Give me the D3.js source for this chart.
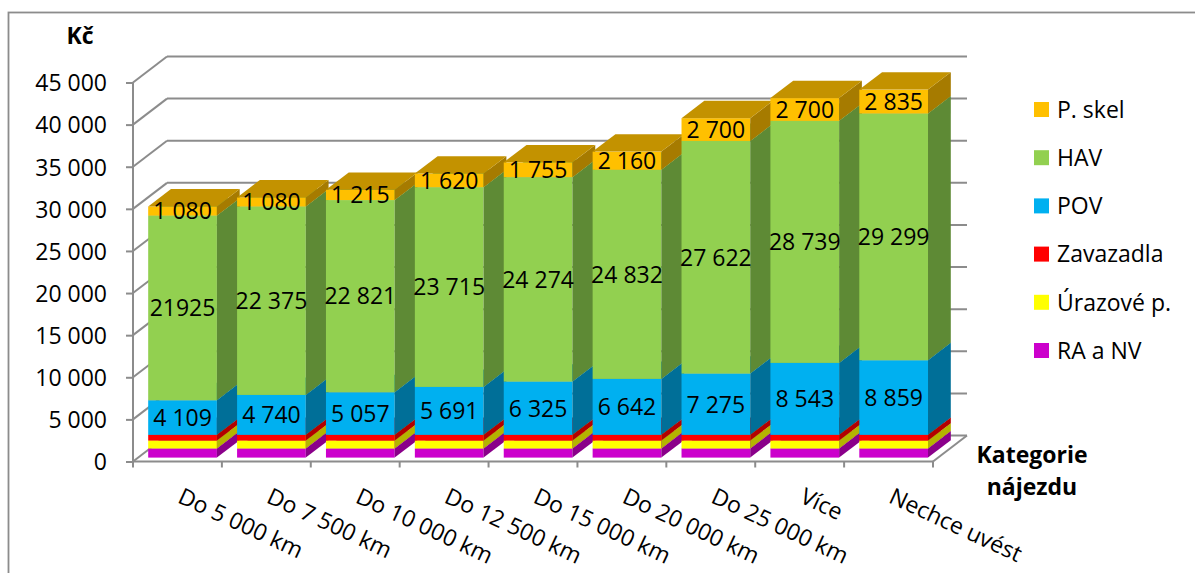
<!DOCTYPE html>
<html>
<head>
<meta charset="utf-8">
<script src="https://cdn.jsdelivr.net/npm/d3@7"></script>
<style>
  html, body { margin: 0; padding: 0; background: #fff; }
  svg text { font-family: "Open Sans", "Liberation Sans", sans-serif; fill: #000; }
</style>
</head>
<body>
<svg id="chart" width="1195" height="573"></svg>
<script>
// Categories of annual mileage
const categories = ["Do 5 000 km", "Do 7 500 km", "Do 10 000 km", "Do 12 500 km",
  "Do 15 000 km", "Do 20 000 km", "Do 25 000 km", "Více", "Nechce uvést"];

// Stacked series, bottom to top (Kč)
const raNv      = [1080, 1080, 1080, 1080, 1080, 1080, 1080, 1080, 1080];
const urazove   = [945, 945, 945, 945, 945, 945, 945, 945, 945];
const zavazadla = [675, 675, 675, 675, 675, 675, 675, 675, 675];
const pov       = [4109, 4740, 5057, 5691, 6325, 6642, 7275, 8543, 8859];
const hav       = [21925, 22375, 22821, 23715, 24274, 24832, 27622, 28739, 29299];
const pSkel     = [1080, 1080, 1215, 1620, 1755, 2160, 2700, 2700, 2835];

// Value axis ticks
const yTicks = [0, 5000, 10000, 15000, 20000, 25000, 30000, 35000, 40000, 45000];

// Series definitions (stack order bottom -> top)
const series = [
  { name: "RA a NV",    values: raNv,      front: "#CC00CC", side: "#8A008A", top: "#A800A8", labels: false },
  { name: "Úrazové p.", values: urazove,   front: "#FFFF00", side: "#B4B400", top: "#D8D800", labels: false },
  { name: "Zavazadla",  values: zavazadla, front: "#FF0000", side: "#B20000", top: "#D60000", labels: false },
  { name: "POV",        values: pov,       front: "#00B0F0", side: "#006F98", top: "#0090C4", labels: true },
  { name: "HAV",        values: hav,       front: "#92D050", side: "#5E8A35", top: "#76AC40", labels: true },
  { name: "P. skel",    values: pSkel,     front: "#FFC000", side: "#A67B00", top: "#C39200", labels: true }
];

// Labels shown without a thousands separator
const plainLabels = [{ series: "HAV", index: 0 }];

const fmt = d3.formatLocale({ decimal: ",", thousands: "\u00a0", grouping: [3], currency: ["", ""] }).format(",d");
const labelText = (s, i, v) =>
  plainLabels.some(p => p.series === s && p.index === i) ? String(v) : fmt(v);

const svg = d3.select("#chart");
const FONT = 23;
const gridColor = "#8C8C8C";

// Front plane of the plot
const x0 = 133, x1 = 933;
const x = d3.scaleBand().domain(categories).range([x0, x1]).paddingInner(0.227).paddingOuter(0.1135);
const y = d3.scaleLinear().domain([0, 45000]).range([461.5, 82.5]);

// Oblique depth of the plot box and of the bars
const depth = { dx: 34, dy: -26 };
const barFront = 0.15, barBack = 0.82;
const bf = { dx: depth.dx * barFront, dy: depth.dy * barFront };
const bd = { dx: depth.dx * (barBack - barFront), dy: depth.dy * (barBack - barFront) };

// Outer frame
svg.append("rect")
  .attr("x", 8.5).attr("y", 12.5).attr("width", 1220).attr("height", 600)
  .attr("fill", "none").attr("stroke", gridColor).attr("stroke-width", 1.8);

// Back wall gridlines and side wall diagonals
const walls = svg.append("g").attr("stroke", gridColor).attr("stroke-width", 2).attr("fill", "none");
yTicks.forEach(v => {
  walls.append("line")
    .attr("x1", x0 + depth.dx).attr("y1", y(v) + depth.dy)
    .attr("x2", x1 + depth.dx).attr("y2", y(v) + depth.dy);
  walls.append("line")
    .attr("x1", x0).attr("y1", y(v))
    .attr("x2", x0 + depth.dx).attr("y2", y(v) + depth.dy);
});
// Floor front edge and right edge
walls.append("line").attr("x1", x0).attr("y1", y(0)).attr("x2", x1).attr("y2", y(0));
walls.append("line").attr("x1", x1).attr("y1", y(0)).attr("x2", x1 + depth.dx).attr("y2", y(0) + depth.dy);

// Category ticks
const step = x.step();
d3.range(categories.length + 1).forEach(i => {
  walls.append("line")
    .attr("x1", x0 + i * step).attr("y1", y(0))
    .attr("x2", x0 + i * step).attr("y2", y(0) + 6);
});

// Value axis
const yAxis = d3.axisLeft(y).tickValues(yTicks).tickFormat(fmt).tickSize(7).tickPadding(19);
const gy = svg.append("g").attr("transform", `translate(${x0},0)`).call(yAxis);
gy.select(".domain").attr("stroke", gridColor).attr("stroke-width", 2).attr("d", `M0,${y(45000)}V${y(0)}`);
gy.selectAll(".tick line").attr("stroke", gridColor).attr("stroke-width", 2);
gy.selectAll(".tick text")
  .attr("font-size", FONT).attr("font-family", "Open Sans, Liberation Sans, sans-serif")
  .attr("fill", "#000").attr("dy", "0.36em");

// Stack the data
const stackData = categories.map((c, i) => {
  const row = { cat: c };
  series.forEach(s => row[s.name] = s.values[i]);
  return row;
});
const stacked = d3.stack().keys(series.map(s => s.name))(stackData);

const pts = p => p.map(q => q.join(",")).join(" ");
const bars = svg.append("g");
const labelLayer = svg.append("g");

categories.forEach((c, i) => {
  const xl = x(c) + bf.dx;
  const xr = xl + x.bandwidth();
  series.forEach((s, k) => {
    const [v0, v1] = stacked[k][i];
    const yb = y(v0) + bf.dy, yt = y(v1) + bf.dy;
    // front face
    bars.append("rect").attr("x", xl).attr("y", yt).attr("width", xr - xl).attr("height", yb - yt)
      .attr("fill", s.front);
    // right side face
    bars.append("polygon").attr("points", pts([[xr, yt], [xr + bd.dx, yt + bd.dy], [xr + bd.dx, yb + bd.dy], [xr, yb]]))
      .attr("fill", s.side);
    // top face
    bars.append("polygon").attr("points", pts([[xl, yt], [xl + bd.dx, yt + bd.dy], [xr + bd.dx, yt + bd.dy], [xr, yt]]))
      .attr("fill", s.top);
    if (s.labels) {
      labelLayer.append("text")
        .attr("x", (xl + xr) / 2).attr("y", (yt + yb) / 2).attr("dy", "0.36em")
        .attr("text-anchor", "middle").attr("font-size", FONT)
        .text(labelText(s.name, i, s.values[i]));
    }
  });
});

// Category labels, rotated
svg.append("g").selectAll("text").data(categories).join("text")
  .attr("transform", d => `translate(${x(d) + x.bandwidth() / 2 - 1},502) rotate(25)`)
  .attr("font-size", FONT)
  .text(d => d);

// Axis titles
svg.append("text").attr("x", 80).attr("y", 44).attr("text-anchor", "middle")
  .attr("font-size", FONT).attr("font-weight", "bold").text("Kč");
const catTitle = svg.append("text").attr("text-anchor", "middle").attr("font-size", FONT).attr("font-weight", "bold");
catTitle.append("tspan").attr("x", 1032).attr("y", 463).text("Kategorie");
catTitle.append("tspan").attr("x", 1032).attr("y", 495).text("nájezdu");

// Legend, top series first
const legend = svg.append("g");
series.slice().reverse().forEach((s, j) => {
  const cy = 109.5 + j * 48.2;
  legend.append("rect").attr("x", 1034).attr("y", cy - 7.5).attr("width", 15).attr("height", 15).attr("fill", s.front);
  legend.append("text").attr("x", 1057).attr("y", cy).attr("dy", "0.36em").attr("font-size", FONT).text(s.name);
});
</script>
</body>
</html>
